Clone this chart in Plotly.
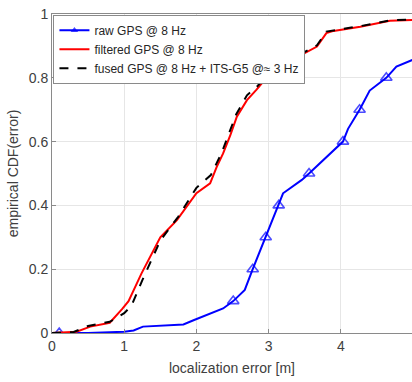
import plotly.graph_objects as go

# raw GPS @ 8 Hz (blue) - line points, and which points carry a marker
raw_x = [0.1, 0.5, 1.0, 1.13, 1.26, 1.82, 1.96, 2.14, 2.37, 2.51, 2.67, 2.78, 2.96, 3.14, 3.2, 3.46, 3.56, 4.03, 4.1, 4.26, 4.4, 4.63, 4.77, 4.99]
raw_y = [0.0, 0.0, 0.004, 0.008, 0.02, 0.027, 0.04, 0.056, 0.077, 0.10, 0.135, 0.20, 0.30, 0.40, 0.438, 0.48, 0.50, 0.60, 0.64, 0.70, 0.76, 0.80, 0.835, 0.856]
raw_marker = [1, 0, 0, 0, 0, 0, 0, 0, 0, 1, 0, 1, 1, 1, 0, 0, 1, 1, 0, 1, 0, 1, 0, 0]

# filtered GPS @ 8 Hz (red)
filt_x = [0.0, 0.34, 0.53, 0.8, 0.97, 1.06, 1.24, 1.5, 1.73, 2.0, 2.19, 2.28, 2.37, 2.47, 2.56, 2.70, 2.83, 2.97, 3.11, 3.3, 3.67, 3.8, 3.9, 4.27, 4.68, 4.99]
filt_y = [0.0, 0.004, 0.02, 0.032, 0.075, 0.10, 0.187, 0.30, 0.354, 0.438, 0.469, 0.52, 0.563, 0.62, 0.678, 0.73, 0.762, 0.80, 0.824, 0.853, 0.898, 0.94, 0.947, 0.96, 0.979, 0.981]

# fused GPS @ 8 Hz + ITS-G5 @≈ 3 Hz (black dashed)
fused_x = [0.0, 0.3, 0.5, 0.8, 1.0, 1.1, 1.25, 1.5, 1.75, 2.0, 2.2, 2.35, 2.45, 2.55, 2.7, 2.85, 3.0, 3.3, 3.67, 3.8, 4.27, 4.68, 4.99]
fused_y = [0.0, 0.003, 0.022, 0.035, 0.062, 0.085, 0.165, 0.29, 0.365, 0.455, 0.495, 0.565, 0.625, 0.685, 0.745, 0.775, 0.812, 0.857, 0.902, 0.945, 0.962, 0.98, 0.983]

x_ticks = [0, 1, 2, 3, 4, 5]
y_ticks = [0, 0.2, 0.4, 0.6, 0.8, 1]
y_tick_text = ["0", "0.2", "0.4", "0.6", "0.8", "1"]

fig = go.Figure()
fig.add_trace(go.Scatter(
    x=raw_x, y=raw_y, mode="lines+markers", name="raw GPS @ 8 Hz",
    line=dict(color="#0000ff", width=2),
    marker=dict(symbol="triangle-up-open", size=[10 if m else 0 for m in raw_marker],
                color="#0000ff", line=dict(width=1.6, color="#0000ff")),
))
fig.add_trace(go.Scatter(
    x=filt_x, y=filt_y, mode="lines", name="filtered GPS @ 8 Hz",
    line=dict(color="#ff0000", width=2),
))
fig.add_trace(go.Scatter(
    x=fused_x, y=fused_y, mode="lines", name="fused GPS @ 8 Hz + ITS-G5 @≈ 3 Hz",
    line=dict(color="#000000", width=2, dash="dash"),
))

fig.update_layout(
    width=412, height=382,
    margin=dict(l=52, r=0, t=14, b=49),
    paper_bgcolor="white", plot_bgcolor="white",
    font=dict(family="Liberation Sans, Arial, sans-serif", size=14, color="#404040"),
    showlegend=True,
    legend=dict(x=0.004, y=0.998, xanchor="left", yanchor="top",
                bgcolor="white", bordercolor="#8a8a8a", borderwidth=1,
                font=dict(size=12, color="#262626"), tracegroupgap=0,
                itemwidth=30),
    xaxis=dict(range=[0, 4.986], tickvals=x_ticks, ticks="inside", ticklen=4,
               tickcolor="#8a8a8a", showgrid=True, gridcolor="#e6e6e6", gridwidth=1,
               showline=True, linecolor="#8a8a8a", linewidth=1, mirror=True,
               zeroline=False, title=dict(text="localization error [m]", standoff=10,
                                          font=dict(size=14, color="#404040"))),
    yaxis=dict(range=[0, 1], tickvals=y_ticks, ticktext=y_tick_text, ticks="inside",
               ticklen=4, tickcolor="#8a8a8a", showgrid=True, gridcolor="#e6e6e6",
               gridwidth=1, showline=True, linecolor="#8a8a8a", linewidth=1,
               zeroline=False, title=dict(text="empirical CDF(error)", standoff=6,
                                          font=dict(size=14, color="#404040"))),
)

fig.write_html("out.html")
